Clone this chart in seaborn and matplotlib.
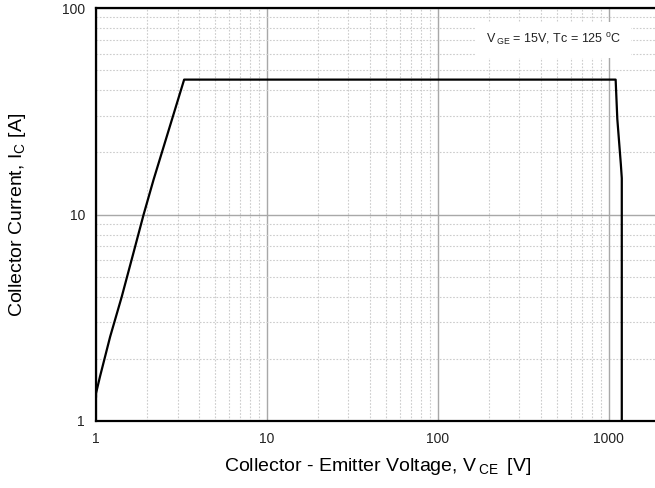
import matplotlib
matplotlib.use("Agg")
import matplotlib.pyplot as plt
import seaborn as sns
import pandas as pd
from matplotlib.ticker import FixedLocator, NullFormatter, LogLocator

# ---- data ----
vce = [1.0, 1.0, 1.055, 1.21, 1.415, 1.655, 1.90, 2.17, 3.28, 1100, 1125, 1180, 1195, 1195]
ic = [1.3, 1.36, 1.64, 2.56, 4.0, 6.5, 10.0, 14.7, 45.0, 45.0, 29.0, 17.5, 15.0, 1.0]
x_ticks = [1, 10, 100, 1000]
y_ticks = [1, 10, 100]
x_tick_labels = ["1", "10", "100", "1000"]
y_tick_labels = ["1", "10", "100"]
annotation = r"V$\,_{\mathregular{GE}}$ = 15V, Tc = 125 $^{\mathregular{o}}$C"
xlabel = r"Collector - Emitter Voltage, V$\,_{\mathregular{CE}}\,$ [V]"
ylabel = r"Collector Current, I$_{\mathregular{C}}$ [A]"

sns.set_style("white")
plt.rcParams["font.family"] = ["Liberation Sans", "DejaVu Sans"]
plt.rcParams["mathtext.default"] = "regular"

df = pd.DataFrame({"VCE": vce, "IC": ic})

fig = plt.figure(figsize=(6.55, 4.88), dpi=100)
ax = fig.add_axes([96 / 655, (488 - 421) / 488, (660 - 96) / 655, (421 - 8) / 488])

ax.set_xscale("log")
ax.set_yscale("log")
ax.set_xlim(1, 2000)
ax.set_ylim(1, 100)

sns.lineplot(data=df, x="VCE", y="IC", ax=ax, sort=False, estimator=None,
             color="black", linewidth=1.6, zorder=5)

ax.xaxis.set_major_locator(FixedLocator(x_ticks))
ax.yaxis.set_major_locator(FixedLocator(y_ticks))
ax.set_xticklabels(x_tick_labels)
ax.set_yticklabels(y_tick_labels)
ax.xaxis.set_minor_locator(LogLocator(base=10, subs=range(2, 10)))
ax.yaxis.set_minor_locator(LogLocator(base=10, subs=range(2, 10)))
ax.xaxis.set_minor_formatter(NullFormatter())
ax.yaxis.set_minor_formatter(NullFormatter())

ax.grid(which="major", color="#a8a8a8", linewidth=1.0, linestyle="-")
ax.grid(which="minor", color="#cccccc", linewidth=0.8, linestyle=(0, (1.5, 1.5)))
ax.set_axisbelow(True)

ax.tick_params(axis="both", which="both", length=0, labelsize=10, colors="#222222")
ax.tick_params(axis="x", pad=8)
ax.tick_params(axis="y", pad=8)

for side in ["left", "bottom", "top"]:
    ax.spines[side].set_color("black")
    ax.spines[side].set_linewidth(1.6)
ax.spines["right"].set_visible(False)

ax.set_xlabel(xlabel, fontsize=14, color="black", labelpad=7)
ax.set_ylabel(ylabel, fontsize=14, color="black", labelpad=24)

ax.text(192, 70, annotation, fontsize=9, ha="left", va="center", color="#222222",
        zorder=6, bbox=dict(facecolor="white", edgecolor="none", pad=7))

fig.savefig("out.png", dpi=100)
